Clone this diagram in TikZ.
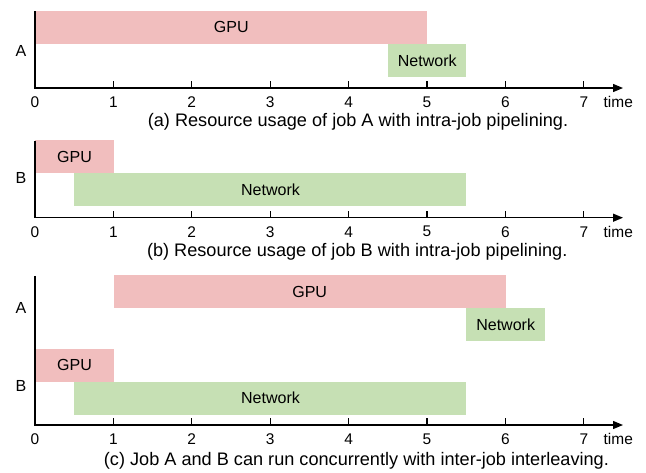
\documentclass[tikz,border=0pt]{standalone}
\usepackage{fontspec}
\setmainfont{Liberation Sans}
\definecolor{gpupink}{RGB}{241, 190, 190}
\definecolor{netgreen}{RGB}{198, 224, 180}
\usetikzlibrary{arrows.meta}
\newcommand{\tunit}{1.96cm}

\begin{document}
\begin{tikzpicture}[x=\tunit, y=1cm,
  bar/.style={rectangle, inner sep=0pt, minimum height=0.825cm, anchor=south west, font=\fontsize{11.4}{13}\selectfont},
  gpu/.style={bar, fill=gpupink},
  net/.style={bar, fill=netgreen},
  axis/.style={line width=0.9pt},
  job/.style={font=\fontsize{11.4}{13}\selectfont},
  num/.style={font=\fontsize{11}{13}\selectfont},
  caption/.style={font=\fontsize{12.9}{15}\selectfont}]
\useasboundingbox (-0.875cm,-11.825cm) rectangle (15.275cm,0);

\begin{scope}[yshift=-2.2cm]
\node[gpu, minimum width=5*\tunit] (gpuA) at (0,1.1) {GPU};
\node[net, minimum width=1*\tunit] (netA) at (4.5,0.27) {Network};
\node[job] (jobA) at (-0.18,0.93) {A};
\coordinate (oa) at (0,0);
\coordinate (ya) at (0,1.92);
\coordinate (xa) at (7.5,0);
\draw[axis, -{Triangle[length=0.25cm,width=0.2cm]}] (ya) -- (oa) -- (xa);
\foreach \t in {1,...,7} \draw[axis] (\t,0) -- (\t,0.175);
\foreach \t in {0,...,7} \node[num] (na\t) at (\t,-0.35) {\t};
\node[num] (timea) at (7.44,-0.35) {time};
\node[caption] (capa) at (4.12,-0.85) {(a) Resource usage of job A with intra-job pipelining.};
\end{scope}

\begin{scope}[yshift=-5.4425cm]
\node[gpu, minimum width=1*\tunit] (gpuB) at (0,1.1) {GPU};
\node[net, minimum width=5*\tunit] (netB) at (0.5,0.275) {Network};
\node[job] (jobB) at (-0.18,0.99) {B};
\coordinate (ob) at (0,0);
\coordinate (yb) at (0,1.92);
\coordinate (xb) at (7.5,0);
\draw[axis, -{Triangle[length=0.25cm,width=0.2cm]}] (yb) -- (ob) -- (xb);
\foreach \t in {1,...,7} \draw[axis] (\t,0) -- (\t,0.175);
\foreach \t in {0,...,7} \node[num] (nb\t) at (\t,-0.35) {\t};
\node[num] (timeb) at (7.44,-0.35) {time};
\node[caption] (capb) at (4.11,-0.85) {(b) Resource usage of job B with intra-job pipelining.};
\end{scope}

\begin{scope}[yshift=-10.625cm]
\node[gpu, minimum width=5*\tunit] (gpuCA) at (1,2.91) {GPU};
\node[net, minimum width=1*\tunit] (netCA) at (5.5,2.09) {Network};
\node[gpu, minimum width=1*\tunit] (gpuCB) at (0,1.08) {GPU};
\node[net, minimum width=5*\tunit] (netCB) at (0.5,0.25) {Network};
\node[job] (jobCA) at (-0.18,2.92) {A};
\node[job] (jobCB) at (-0.18,0.975) {B};
\coordinate (oc) at (0,0);
\coordinate (yc) at (0,3.73);
\coordinate (xc) at (7.5,0);
\draw[axis, -{Triangle[length=0.25cm,width=0.2cm]}] (yc) -- (oc) -- (xc);
\foreach \t in {1,...,7} \draw[axis] (\t,0) -- (\t,0.175);
\foreach \t in {0,...,7} \node[num] (nc\t) at (\t,-0.35) {\t};
\node[num] (timec) at (7.44,-0.35) {time};
\node[caption] (capc) at (4.1,-0.89) {(c) Job A and B can run concurrently with inter-job interleaving.};
\end{scope}
\end{tikzpicture}
\end{document}
